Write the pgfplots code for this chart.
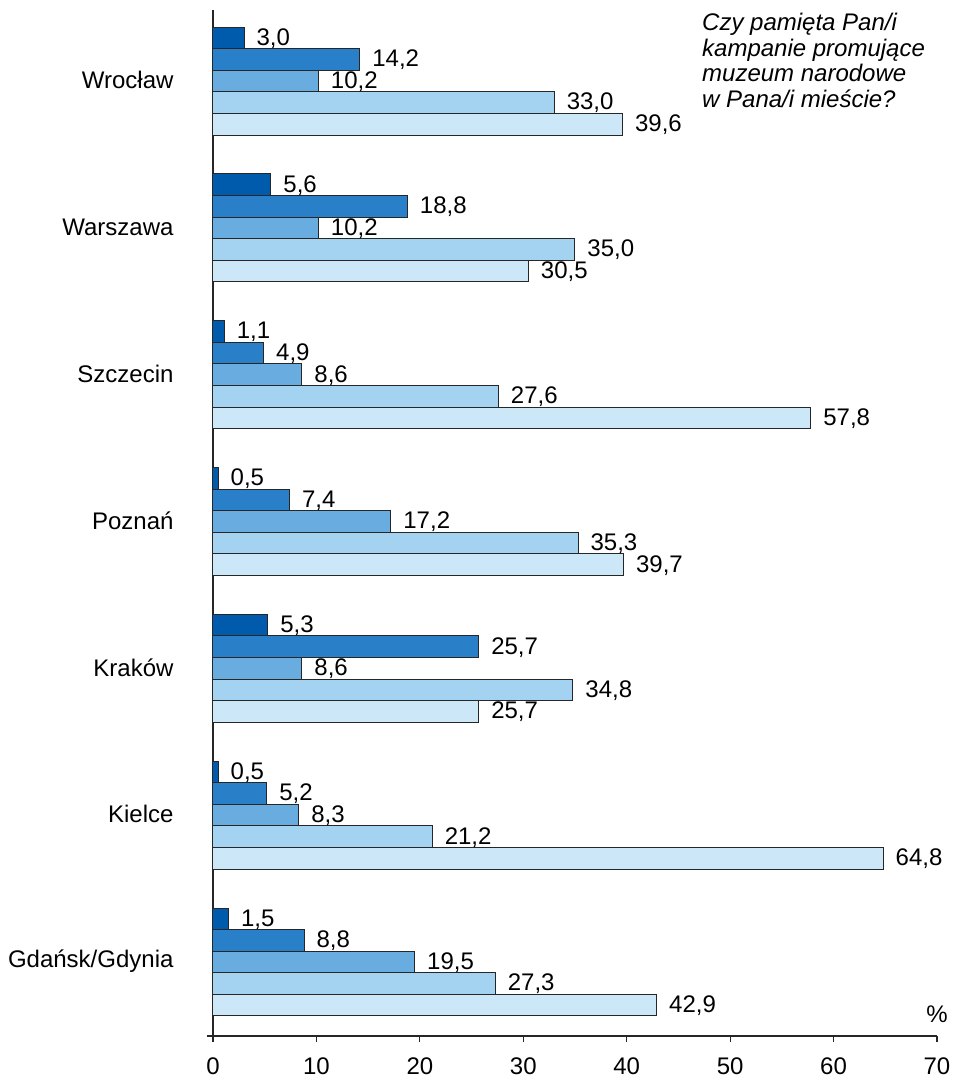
\documentclass[border=0pt]{standalone}
\usepackage{fontspec}
\setmainfont{Liberation Sans}
\usepackage{pgfplots}
\usepackage{pgfplotstable}
\pgfplotsset{compat=1.18}

\definecolor{c1}{HTML}{005BAC}
\definecolor{c2}{HTML}{2A80C8}
\definecolor{c3}{HTML}{69ACE0}
\definecolor{c4}{HTML}{A4D3F2}
\definecolor{c5}{HTML}{CBE7F8}

% y: 0 = Gdańsk/Gdynia ... 6 = Wrocław
\pgfplotstableread{
y a b c d e
6 3.0 14.2 10.2 33.0 39.6
5 5.6 18.8 10.2 35.0 30.5
4 1.1 4.9 8.6 27.6 57.8
3 0.5 7.4 17.2 35.3 39.7
2 5.3 25.7 8.6 34.8 25.7
1 0.5 5.2 8.3 21.2 64.8
0 1.5 8.8 19.5 27.3 42.9
}\survey

\newcommand{\lbl}{\fontsize{24}{28}\selectfont}

\begin{document}
\begin{tikzpicture}
\begin{axis}[
  at={(0,0)}, anchor=south west,
  scale only axis, width=724pt, height=1026pt,
  xmin=0, xmax=70, ymin=-0.504, ymax=6.484,
  axis lines*=left,
  axis line style={line width=1.2pt, black!85},
  x axis line style={shorten <=-6pt},
  xbar, bar width=0.147,
  xtick={0,10,...,70},
  ytick={0,...,6},
  yticklabels={Gdańsk/Gdynia,Kielce,Kraków,Poznań,Szczecin,Warszawa,Wrocław},
  tick align=outside, major tick length=6pt,
  x tick style={line width=1.2pt, black!85},
  y tick style={draw=none},
  tick label style={font=\lbl},
  xticklabel style={yshift=-12pt},
  yticklabel style={xshift=-30pt, yshift=1pt},
  /pgf/number format/assume math mode=true,
  point meta=x,
  nodes near coords={\pgfmathprintnumber[fixed,fixed zerofill,precision=1,use comma,assume math mode=true]{\pgfplotspointmeta}},
  every node near coord/.append style={font=\lbl, anchor=west, inner sep=0pt, xshift=12pt, yshift=-0.5pt},
  every axis plot/.append style={draw=black!85, line width=1pt},
  clip=false,
]
\addplot[fill=c1, bar shift=0.294]  table[x=a, y=y] {\survey};
\addplot[fill=c2, bar shift=0.147]  table[x=b, y=y] {\survey};
\addplot[fill=c3, bar shift=0]      table[x=c, y=y] {\survey};
\addplot[fill=c4, bar shift=-0.147] table[x=d, y=y] {\survey};
\addplot[fill=c5, bar shift=-0.294] table[x=e, y=y] {\survey};
\end{axis}
\node[anchor=north west, align=left, inner sep=0pt, font=\itshape\fontsize{24}{25.5}\selectfont]
  at (489pt,1023pt) {Czy pamięta Pan/i\\kampanie promujące\\muzeum narodowe\\w Pana/i mieście?};
\node[font=\lbl, inner sep=0pt] at (724pt,22pt) {\%};
\pgfresetboundingbox
\path (-213pt,-43pt) rectangle (740pt,1036pt);
\end{tikzpicture}
\end{document}
